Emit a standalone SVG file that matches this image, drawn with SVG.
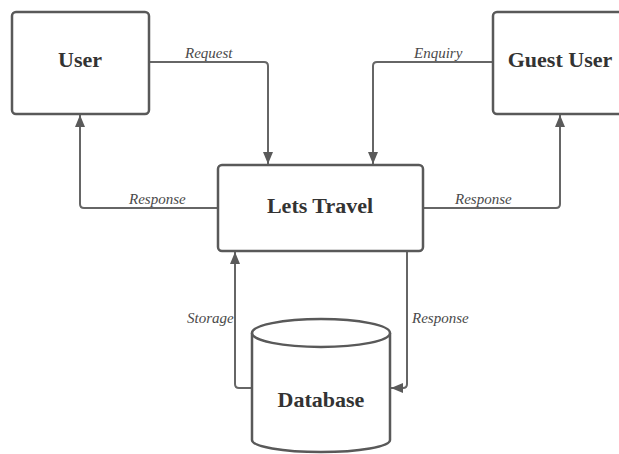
<svg xmlns="http://www.w3.org/2000/svg" width="619" height="454" viewBox="0 0 619 454">
<style>
.box{fill:#fff;stroke:#595959;stroke-width:2.5}
.title{font-family:"Liberation Serif",serif;font-weight:bold;font-size:22px;fill:#333;text-anchor:middle}
.lbl{font-family:"Liberation Serif",serif;font-style:italic;font-size:15px;fill:#4a4a4a}
.conn{fill:none;stroke:#666;stroke-width:2;stroke-linejoin:round}
</style>
<defs>
<marker id="arr" viewBox="0 0 12 10" refX="12" refY="5" markerWidth="12" markerHeight="10" markerUnits="userSpaceOnUse" orient="auto">
<path d="M0,0 L12,5 L0,10 Z" fill="#5a5a5a"/>
</marker>
</defs>
<rect width="619" height="454" fill="#fff"/>
<g id="connectors">
<path class="conn" d="M149,62 H264 Q268,62 268,66 V164" marker-end="url(#arr)"/>
<path class="conn" d="M493,62 H377 Q373,62 373,66 V164" marker-end="url(#arr)"/>
<path class="conn" d="M218,208 H84 Q80,208 80,204 V115" marker-end="url(#arr)"/>
<path class="conn" d="M423,208 H556 Q560,208 560,204 V115" marker-end="url(#arr)"/>
<path class="conn" d="M252,388 H239 Q235,388 235,384 V252" marker-end="url(#arr)"/>
<path class="conn" d="M407,251 V384 Q407,388 403,388 H391" marker-end="url(#arr)"/>
<text class="lbl" x="185" y="58">Request</text>
<text class="lbl" x="414" y="58">Enquiry</text>
<text class="lbl" x="129" y="204">Response</text>
<text class="lbl" x="455" y="204">Response</text>
<text class="lbl" x="187" y="323">Storage</text>
<text class="lbl" x="412" y="323">Response</text>
</g>
<g id="user">
<rect class="box" x="12" y="12" width="137" height="102" rx="4"/>
<text class="title" x="80" y="67">User</text>
</g>
<g id="guest-user">
<rect class="box" x="493" y="12" width="140" height="102" rx="4"/>
<text class="title" x="560" y="67">Guest User</text>
</g>
<g id="lets-travel">
<rect class="box" x="218" y="165" width="205" height="86" rx="4"/>
<text class="title" x="320" y="213">Lets Travel</text>
</g>
<g id="database">
<path class="box" d="M252,333 V440 A69,12 0 0 0 390,440 V333"/>
<ellipse class="box" cx="321" cy="333" rx="69" ry="14"/>
<text class="title" x="321" y="407">Database</text>
</g>
</svg>
